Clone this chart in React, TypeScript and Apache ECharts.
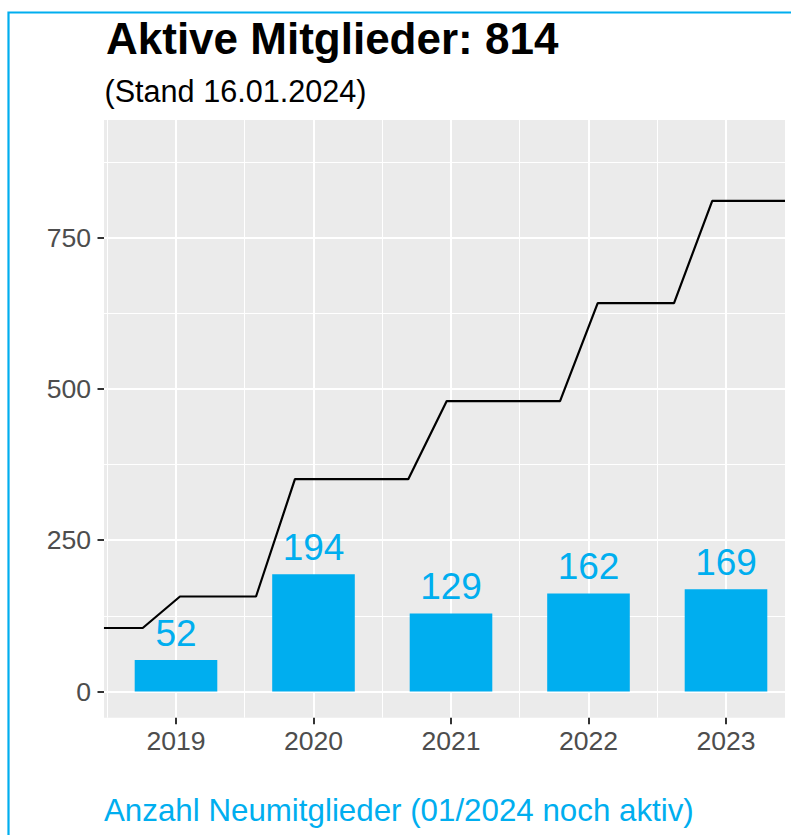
import React, { useEffect, useRef } from "react";
import * as echarts from "echarts";

// ---- data ----
const years = [2019, 2020, 2021, 2022, 2023];
const newMembers = [52, 194, 129, 162, 169];
// cumulative active members (step line), x in fractional years
const lineYears = [2018.476, 2018.758, 2019.029, 2019.582, 2019.865, 2020.689, 2020.969, 2021.793, 2022.067, 2022.622, 2022.9, 2023.429];
const activeTotal = [105, 105, 157, 157, 351, 351, 480, 480, 642, 642, 811, 811];
const yTicks = [0, 250, 500, 750];
const yMinorTicks = [125, 375, 625, 875];
const xMinorTicks = [2018.5, 2019.5, 2020.5, 2021.5, 2022.5];

const titleText = "Aktive Mitglieder: 814";
const subtitleText = "(Stand 16.01.2024)";
const captionText = "Anzahl Neumitglieder (01/2024 noch aktiv)";

const BLUE = "#00AEEF";
const FONT = "'Liberation Sans', Arial, Helvetica, sans-serif";

const X_MIN = 2018.4764;
const X_MAX = 2023.4291;
const Y_MIN = -43.3;
const Y_MAX = 944.6;

function buildOption(): any {
  return {
    animation: false,
    backgroundColor: "#ffffff",
    title: [
      {
        text: titleText,
        left: 106,
        top: 16.8,
        padding: 0,
        textStyle: { fontFamily: FONT, fontSize: 44, fontWeight: "bold", color: "#000000" },
      },
      {
        text: subtitleText,
        left: 104.5,
        top: 75,
        padding: 0,
        textStyle: { fontFamily: FONT, fontSize: 30.6, fontWeight: "normal", color: "#000000" },
      },
      {
        text: captionText,
        left: 104,
        top: 794.5,
        padding: 0,
        textStyle: { fontFamily: FONT, fontSize: 31.3, fontWeight: "normal", color: BLUE },
      },
    ],
    graphic: [
      {
        type: "rect",
        left: 6,
        top: 10,
        shape: { x: 0, y: 0, width: 900, height: 900 },
        style: { fill: "none", stroke: BLUE, lineWidth: 2.2 },
        silent: true,
        z: 100,
      },
    ],
    grid: {
      left: 104,
      right: 6,
      top: 120,
      bottom: 117.3,
      show: true,
      backgroundColor: "#EBEBEB",
      borderWidth: 0,
      containLabel: false,
      outerBoundsMode: "none",
    },
    xAxis: [
      {
        type: "value",
        min: X_MIN,
        max: X_MAX,
        position: "bottom",
        axisLine: { show: false, onZero: false },
        axisTick: {
          show: true,
          length: 6.5,
          customValues: years,
          lineStyle: { color: "#333333", width: 2 },
        },
        axisLabel: {
          show: true,
          customValues: years,
          margin: 10,
          fontFamily: FONT,
          fontSize: 26.6,
          color: "#4D4D4D",
          formatter: (v: number) => String(Math.round(v)),
        },
        splitLine: {
          show: true,
          customValues: years,
          lineStyle: { color: "#ffffff", width: 2 },
        },
        z: 3,
      },
      {
        type: "value",
        min: X_MIN,
        max: X_MAX,
        position: "bottom",
        axisLine: { show: false, onZero: false },
        axisTick: { show: false, customValues: xMinorTicks },
        axisLabel: { show: false, customValues: xMinorTicks },
        splitLine: {
          show: true,
          customValues: xMinorTicks,
          lineStyle: { color: "#ffffff", width: 1 },
        },
        z: 2,
      },
    ],
    yAxis: [
      {
        type: "value",
        min: Y_MIN,
        max: Y_MAX,
        position: "left",
        axisLine: { show: false, onZero: false },
        axisTick: {
          show: true,
          length: 6.5,
          customValues: yTicks,
          lineStyle: { color: "#333333", width: 2 },
        },
        axisLabel: {
          show: true,
          customValues: yTicks,
          margin: 13,
          fontFamily: FONT,
          fontSize: 26.6,
          color: "#4D4D4D",
        },
        splitLine: {
          show: true,
          customValues: yTicks,
          lineStyle: { color: "#ffffff", width: 2 },
        },
        z: 3,
      },
      {
        type: "value",
        min: Y_MIN,
        max: Y_MAX,
        position: "left",
        axisLine: { show: false, onZero: false },
        axisTick: { show: false, customValues: yMinorTicks },
        axisLabel: { show: false, customValues: yMinorTicks },
        splitLine: {
          show: true,
          customValues: yMinorTicks,
          lineStyle: { color: "#ffffff", width: 1 },
        },
        z: 2,
      },
    ],
    series: [
      {
        type: "bar",
        xAxisIndex: 0,
        yAxisIndex: 0,
        data: years.map((y, i) => [y, newMembers[i]]),
        barWidth: 82.6,
        itemStyle: { color: BLUE },
        label: {
          show: true,
          position: "top",
          distance: 8.5,
          fontFamily: FONT,
          fontSize: 37,
          color: BLUE,
          formatter: (p: any) => String(p.value[1]),
        },
        z: 5,
      },
      {
        type: "line",
        xAxisIndex: 0,
        yAxisIndex: 0,
        data: lineYears.map((x, i) => [x, activeTotal[i]]),
        showSymbol: false,
        symbol: "none",
        lineStyle: { color: "#000000", width: 2.2 },
        z: 6,
      },
    ],
  };
}

export default function App() {
  const ref = useRef<HTMLDivElement>(null);
  useEffect(() => {
    if (!ref.current) return;
    const chart = echarts.init(ref.current, null, { renderer: "svg" });
    chart.setOption(buildOption());
    return () => {
      chart.dispose();
    };
  }, []);
  return (
    <div
      ref={ref}
      style={{ position: "absolute", left: 0, top: 0, width: 791, height: 835, background: "#ffffff" }}
    />
  );
}
